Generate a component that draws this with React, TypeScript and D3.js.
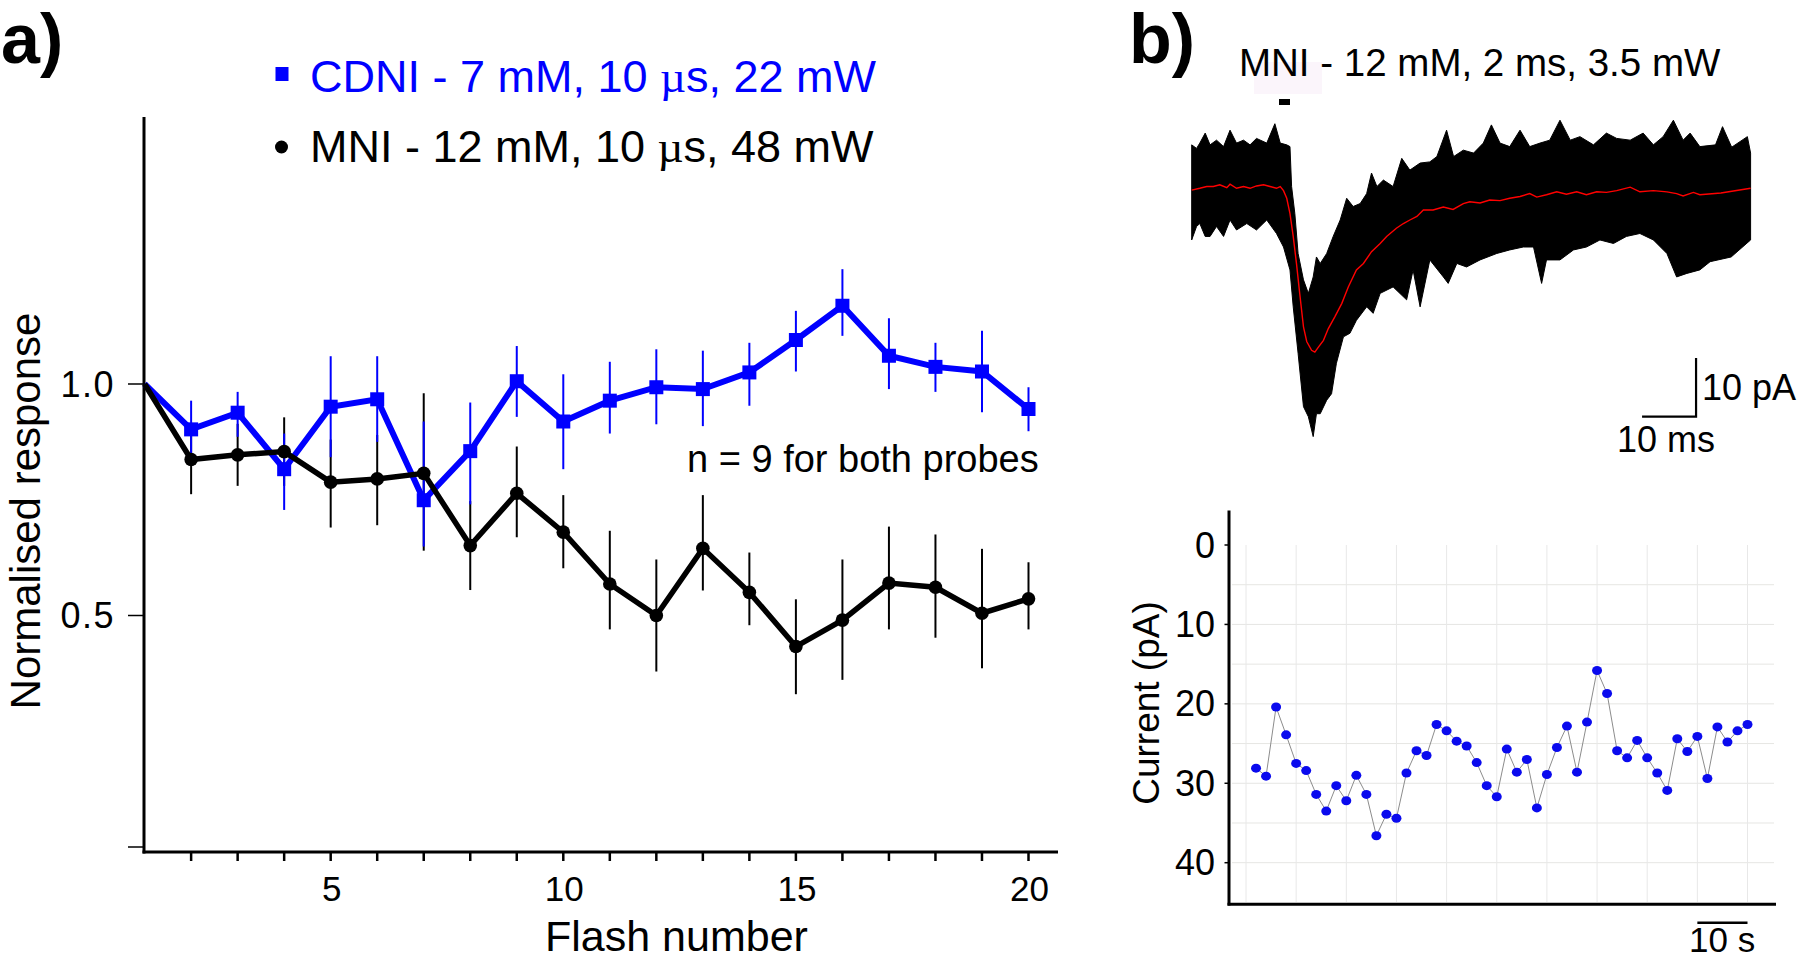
import React from "react";
import * as d3 from "d3";

// ---------- Panel a data ----------
const flashNumbers = d3.range(1, 21);
const cdniMean = [1.0, 0.902, 0.938, 0.816, 0.951, 0.967, 0.749, 0.855, 1.006, 0.919, 0.964, 0.993, 0.989, 1.025, 1.095, 1.169, 1.061, 1.037, 1.027, 0.946];
const cdniHi = [null, 0.964, 0.983, 0.893, 1.06, 1.06, 0.919, 0.96, 1.082, 1.021, 1.048, 1.075, 1.072, 1.089, 1.158, 1.248, 1.142, 1.089, 1.115, 0.993];
const cdniLo = [null, 0.84, 0.886, 0.728, 0.842, 0.875, 0.649, 0.74, 0.929, 0.816, 0.893, 0.913, 0.909, 0.953, 1.027, 1.104, 0.989, 0.983, 0.939, 0.898];
const mniMean = [1.0, 0.837, 0.847, 0.854, 0.788, 0.795, 0.807, 0.651, 0.764, 0.68, 0.568, 0.5, 0.645, 0.55, 0.433, 0.49, 0.57, 0.561, 0.505, 0.536];
const mniHi = [null, 0.912, 0.914, 0.928, 0.88, 0.89, 0.98, 0.747, 0.865, 0.76, 0.683, 0.621, 0.76, 0.636, 0.535, 0.621, 0.692, 0.675, 0.644, 0.615];
const mniLo = [null, 0.762, 0.78, 0.78, 0.69, 0.695, 0.64, 0.555, 0.669, 0.602, 0.47, 0.379, 0.554, 0.479, 0.33, 0.361, 0.47, 0.452, 0.386, 0.47];
const xTicksA = d3.range(2, 21);
const xTickLabelsA = [5, 10, 15, 20];
const yTicksA = [0, 0.5, 1.0];
const yTickLabelsA = ["", "0.5", "1.0"];

// ---------- Panel b data (traces: time ms, current pA) ----------
const meanT = [0, 1.5, 2.8, 4.0, 5.2, 6.5, 7.1, 8.3, 9.6, 10.8, 12.0, 13.3, 14.5, 15.7, 16.4, 17.0, 17.6, 18.2, 18.8, 19.4, 20.0, 20.7, 21.3, 22.2, 22.8, 23.5, 24.4, 25.3, 26.5, 27.8, 29.0, 30.5, 31.8, 33.3, 34.9, 36.1, 37.9, 39.2, 40.4, 41.7, 42.9, 44.7, 46.6, 48.4, 50.3, 51.5, 53.4, 55.2, 57.1, 58.9, 60.8, 62.6, 63.9, 65.7, 67.6, 69.4, 71.3, 73.1, 75.0, 76.8, 78.7, 81.2, 83.0, 85.5, 88.0, 89.8, 91.0, 92.9, 94.1, 98.0, 103.5];
const meanI = [-0.3, 0, 0.3, 0.3, 0.6, 0.1, 0.7, 0, 0.3, 0, 0.4, 0.6, 0.3, 0, 0.3, -0.4, -1.7, -4.3, -8.2, -12.8, -17.9, -23.6, -26.1, -27.6, -27.9, -27.0, -25.9, -23.9, -21.9, -19.6, -16.8, -13.9, -12.8, -10.8, -9.4, -8.2, -6.8, -6.0, -5.4, -4.8, -3.7, -3.7, -3.2, -3.6, -2.6, -2.3, -2.5, -2.0, -2.1, -1.7, -1.4, -0.9, -1.5, -1.1, -0.6, -1.0, -0.6, -1.1, -0.6, -0.7, -0.4, 0.2, -0.6, -0.4, -0.6, -0.9, -1.3, -0.7, -1.1, -0.8, 0];
const upperT = [0, 0.9, 1.5, 2.5, 3.4, 4.6, 5.9, 7.1, 8.3, 9.6, 10.8, 12.0, 13.9, 15.4, 16.4, 17.6, 18.2, 18.5, 19.1, 19.7, 20.7, 21.6, 22.5, 23.1, 23.8, 25.0, 26.2, 27.5, 28.7, 29.9, 31.2, 32.4, 33.3, 34.3, 35.5, 37.3, 38.9, 40.4, 42.3, 44.1, 45.4, 47.2, 48.5, 50.3, 52.2, 54.0, 55.5, 57.1, 58.9, 60.8, 62.6, 64.5, 66.3, 68.2, 70.1, 71.9, 74.4, 76.8, 78.7, 81.2, 83.6, 85.5, 87.3, 89.2, 91.0, 92.3, 94.1, 97.0, 98.3, 100.0, 102.9, 103.5];
const upperI = [7.4, 6.8, 7.7, 9.4, 7.4, 8.2, 7.1, 9.9, 7.7, 8.2, 7.4, 8.5, 7.7, 11.0, 7.7, 7.4, 7.1, 0.3, -4.3, -11.1, -15.6, -17.9, -15.1, -11.7, -12.8, -11.1, -8.2, -5.4, -1.7, -3.1, -2.6, -0.9, 2.6, 0.3, 1.4, 0.3, 5.1, 3.1, 4.3, 4.5, 5.4, 9.9, 5.4, 6.5, 6.0, 7.7, 10.8, 7.7, 7.1, 9.9, 7.1, 7.7, 8.2, 11.6, 8.2, 8.8, 7.4, 9.4, 8.5, 8.2, 9.4, 7.4, 8.8, 11.6, 8.2, 9.4, 7.1, 7.4, 10.5, 7.0, 8.8, 6.0];
const lowerT = [0, 0.9, 1.5, 2.5, 3.4, 4.6, 5.9, 7.1, 8.3, 10.2, 12.0, 13.9, 15.7, 17.0, 18.2, 18.8, 19.7, 20.7, 21.6, 22.5, 23.1, 23.8, 25.0, 25.9, 26.8, 28.1, 29.3, 30.5, 32.4, 33.6, 34.9, 37.3, 39.8, 41.0, 42.3, 44.1, 46.6, 47.5, 49.1, 50.9, 53.4, 56.5, 58.9, 61.4, 63.3, 64.8, 65.7, 68.2, 70.7, 73.1, 75.6, 78.1, 80.5, 83.0, 85.5, 88.0, 89.8, 91.7, 94.1, 96.0, 99.9, 103.5];
const lowerI = [-8.8, -6.5, -6.0, -8.2, -8.2, -6.5, -8.2, -5.4, -7.1, -6.0, -7.1, -5.4, -7.7, -10.0, -13.9, -20.2, -28.1, -37.2, -38.9, -42.3, -38.4, -38.4, -36.1, -35.0, -29.8, -25.3, -24.7, -22.5, -20.2, -21.3, -17.9, -16.8, -19.0, -13.9, -20.2, -12.2, -15.1, -16.2, -12.8, -13.4, -12.2, -11.1, -10.5, -10.0, -10.0, -16.2, -12.2, -12.2, -10.5, -10.0, -8.8, -9.4, -8.2, -7.7, -8.8, -11.1, -15.1, -14.5, -13.9, -12.5, -11.7, -8.8];

// peak currents over time (pA), one every 2 s
const peakCurrent = [28.1, 29.1, 20.4, 23.9, 27.5, 28.4, 31.4, 33.5, 30.3, 32.2, 29.0, 31.4, 36.6, 33.9, 34.4, 28.7, 25.9, 26.5, 22.6, 23.4, 24.7, 25.3, 27.4, 30.3, 31.7, 25.7, 28.6, 27.0, 33.1, 28.9, 25.5, 22.8, 28.6, 22.3, 15.8, 18.7, 25.9, 26.8, 24.6, 26.8, 28.7, 30.9, 24.4, 26.0, 24.1, 29.4, 22.9, 24.8, 23.4, 22.6];
const sweepIndex = d3.range(1, peakCurrent.length + 1);
const yTicksC = [0, 10, 20, 30, 40];
const yGridC = [5, 10, 15, 20, 25, 30, 35, 40];
const xGridC = d3.range(0, 51, 5);

const FONT = "'Liberation Sans', Arial, Helvetica, sans-serif";
const BLUE = "#0000ff";

export default function App() {
  // ---- Panel a scales ----
  const xA = d3.scaleLinear().domain([1, 20]).range([144.6, 1028.5]);
  const yA = d3.scaleLinear().domain([0, 1]).range([847, 384]);
  const lineA = d3
    .line<number>()
    .x((_, i) => xA(flashNumbers[i]))
    .y((d) => yA(d));

  // ---- Panel b trace scales ----
  const xT = d3.scaleLinear().domain([0, 10]).range([1191.7, 1245.7]);
  const yT = d3.scaleLinear().domain([0, 10]).range([188.3, 129.6]);
  const meanLine = d3
    .line<number>()
    .x((_, i) => xT(meanT[i]))
    .y((d) => yT(d));
  const bandPts: [number, number][] = [
    ...upperT.map((t, i) => [xT(t), yT(upperI[i])] as [number, number]),
    ...lowerT
      .map((t, i) => [xT(t), yT(lowerI[i])] as [number, number])
      .reverse(),
  ];
  const bandPath = "M" + bandPts.map((p) => p.join(",")).join("L") + "Z";

  // ---- Panel b scatter scales ----
  const xC = d3.scaleLinear().domain([0, 50]).range([1246, 1747.5]);
  const yC = d3.scaleLinear().domain([0, 40]).range([545, 862.7]);
  const lineC = d3
    .line<number>()
    .x((_, i) => xC(sweepIndex[i]))
    .y((d) => yC(d));

  const drawBars = (
    hi: (number | null)[],
    lo: (number | null)[],
    color: string,
    key: string
  ) =>
    flashNumbers.map((f, i) =>
      hi[i] == null ? null : (
        <line
          key={key + i}
          x1={xA(f)}
          x2={xA(f)}
          y1={yA(hi[i] as number)}
          y2={yA(lo[i] as number)}
          stroke={color}
          strokeWidth={2}
        />
      )
    );

  return (
    <svg
      width={1800}
      height={961}
      style={{ position: "absolute", left: 0, top: 0, background: "#fff" }}
      fontFamily={FONT}
    >
      <rect x={0} y={0} width={1800} height={961} fill="#fff" />

      {/* ================= Panel a ================= */}
      <text x={1} y={63} fontSize={70} fontWeight="bold">
        a)
      </text>

      {/* legend */}
      <rect x={275.5} y={67} width={13} height={14} fill={BLUE} />
      <text x={310} y={92} fontSize={45} fill={BLUE}>
        CDNI - 7 mM, 10 <tspan fontFamily="'Liberation Serif', 'Times New Roman', serif">µ</tspan>s, 22 mW
      </text>
      <circle cx={281.5} cy={147} r={6.5} fill="#000" />
      <text x={310} y={162} fontSize={45} fill="#000">
        MNI - 12 mM, 10 <tspan fontFamily="'Liberation Serif', 'Times New Roman', serif">µ</tspan>s, 48 mW
      </text>

      {/* axes */}
      <line x1={144} x2={144} y1={117} y2={853.5} stroke="#000" strokeWidth={3} />
      <line x1={142.5} x2={1058} y1={852} y2={852} stroke="#000" strokeWidth={3} />
      {xTicksA.map((t) => (
        <line key={"xt" + t} x1={xA(t)} x2={xA(t)} y1={852} y2={861} stroke="#000" strokeWidth={2.5} />
      ))}
      {xTickLabelsA.map((t) => (
        <text key={"xl" + t} x={xA(t) + 1} y={901} fontSize={35} textAnchor="middle">
          {t}
        </text>
      ))}
      {yTicksA.map((t, i) => (
        <g key={"yt" + t}>
          <line x1={128} x2={144} y1={yA(t)} y2={yA(t)} stroke="#000" strokeWidth={1.5} />
          <text x={115} y={yA(t) + 12.5} fontSize={36} textAnchor="end" letterSpacing={1.5}>
            {yTickLabelsA[i]}
          </text>
        </g>
      ))}
      <text
        transform="translate(40,511) rotate(-90)"
        fontSize={42}
        textAnchor="middle"
      >
        Normalised response
      </text>
      <text x={545} y={951} fontSize={43}>
        Flash number
      </text>
      <text x={687} y={472} fontSize={38}>
        n = 9 for both probes
      </text>

      {/* error bars */}
      {drawBars(mniHi, mniLo, "#000", "mb")}
      {drawBars(cdniHi, cdniLo, BLUE, "cb")}

      {/* CDNI series */}
      <path d={lineA(cdniMean) || ""} fill="none" stroke={BLUE} strokeWidth={6} strokeLinejoin="miter" />
      {flashNumbers.slice(1).map((f, j) => (
        <rect
          key={"cm" + f}
          x={xA(f) - 7}
          y={yA(cdniMean[j + 1]) - 7}
          width={14}
          height={14}
          fill={BLUE}
        />
      ))}

      {/* MNI series */}
      <path d={lineA(mniMean) || ""} fill="none" stroke="#000" strokeWidth={5.5} strokeLinejoin="miter" />
      {flashNumbers.slice(1).map((f, j) => (
        <circle key={"mm" + f} cx={xA(f)} cy={yA(mniMean[j + 1])} r={6.8} fill="#000" />
      ))}

      {/* ================= Panel b ================= */}
      <text x={1129} y={63} fontSize={70} fontWeight="bold">
        b)
      </text>
      <rect x={1254} y={62} width={68} height={32} fill="#fbf5fb" />
      <text x={1239} y={76} fontSize={38.5}>
        MNI - 12 mM, 2 ms, 3.5 mW
      </text>
      <rect x={1279} y={99} width={11} height={6} fill="#000" />

      {/* traces */}
      <path d={bandPath} fill="#000" stroke="#000" strokeWidth={1} strokeLinejoin="miter" />
      <path d={meanLine(meanI) || ""} fill="none" stroke="#ff0000" strokeWidth={1.4} />

      {/* scale bars */}
      <path
        d={`M${xT(83.4)},${yT(-38.9)}L${xT(93.4)},${yT(-38.9)}L${xT(93.4)},${yT(-28.9)}`}
        fill="none"
        stroke="#000"
        strokeWidth={2.2}
      />
      <text x={1702} y={400} fontSize={36}>
        10 pA
      </text>
      <text x={1617} y={452} fontSize={36}>
        10 ms
      </text>

      {/* scatter grid */}
      {yGridC.map((v) => (
        <line key={"hg" + v} x1={1232} x2={1774} y1={yC(v)} y2={yC(v)} stroke="#e6e6e3" strokeWidth={1} />
      ))}
      {xGridC.map((v) => (
        <line key={"vg" + v} x1={xC(v)} x2={xC(v)} y1={545} y2={902} stroke="#e8e8e8" strokeWidth={1} />
      ))}

      {/* scatter axes */}
      <line x1={1229} x2={1229} y1={510.5} y2={905.5} stroke="#000" strokeWidth={3} />
      <line x1={1227.5} x2={1776} y1={904.3} y2={904.3} stroke="#000" strokeWidth={3} />
      {yTicksC.map((v) => (
        <g key={"ct" + v}>
          <line x1={1224.5} x2={1229} y1={yC(v)} y2={yC(v)} stroke="#000" strokeWidth={1.5} />
          <text x={1215} y={yC(v) + 12.5} fontSize={36} textAnchor="end">
            {v}
          </text>
        </g>
      ))}
      <text transform="translate(1159,703) rotate(-90)" fontSize={37} textAnchor="middle">
        Current (pA)
      </text>

      <path d={lineC(peakCurrent) || ""} fill="none" stroke="#8c8c8c" strokeWidth={1} />
      {peakCurrent.map((v, i) => (
        <ellipse key={"pc" + i} cx={xC(sweepIndex[i])} cy={yC(v)} rx={5} ry={4.5} fill="#0a0aee" />
      ))}

      <line x1={xC(45)} x2={xC(50)} y1={922.7} y2={922.7} stroke="#000" strokeWidth={2.5} />
      <text x={1689} y={952} fontSize={35}>
        10 s
      </text>
    </svg>
  );
}
